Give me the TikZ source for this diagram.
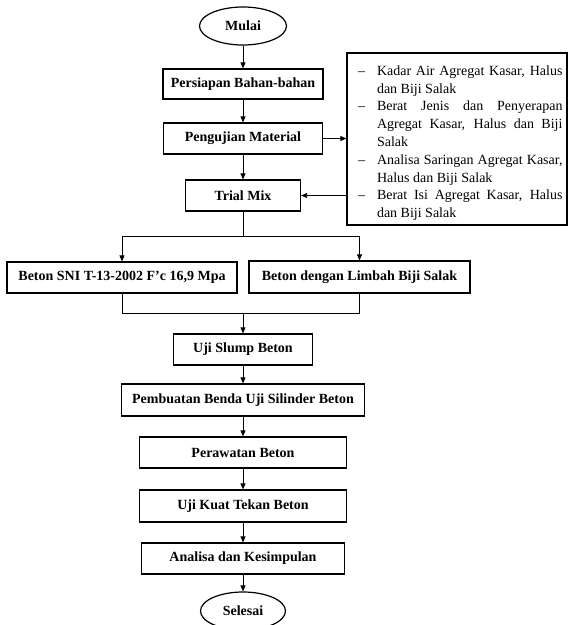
\documentclass[tikz,border=0pt]{standalone}
\usepackage{fontspec}
\setmainfont{Liberation Serif}
\usetikzlibrary{shapes.geometric,arrows.meta}

\tikzset{
  proses/.style={draw, line width=1.2pt, inner sep=0pt,
    font=\fontsize{14}{17.8}\selectfont\bfseries},
  terminal/.style={draw, ellipse, line width=1.2pt, inner sep=0pt,
    font=\fontsize{14}{17.8}\selectfont\bfseries},
  panah/.style={-{Triangle[length=6pt,width=5pt]}, line width=0.8pt},
  garis/.style={line width=0.8pt}
}

\begin{document}
\begin{tikzpicture}[x=1pt,y=-1pt]
    \useasboundingbox (0,0) rectangle (568,625);
    \clip (0,0) rectangle (568,625);

    % Alur utama
    \node[terminal, minimum width=87pt, minimum height=38pt] (mulai) at (243,26) {Mulai};
    \node[proses, minimum width=160pt, minimum height=30pt] (persiapan) at (243,84) {Persiapan Bahan-bahan};
    \node[proses, minimum width=159pt, minimum height=31pt] (pengujian) at (243,138.5) {Pengujian Material};
    \node[proses, minimum width=115pt, minimum height=31pt] (trial) at (243,195.5) {Trial Mix};

    % Daftar pengujian material
    \node[draw, line width=1.2pt, minimum height=172pt, text width=211pt,
          inner xsep=4.5pt, inner ysep=0pt, align=justify,
          font=\fontsize{14}{17.8}\selectfont] (daftar) at (457,139) {%
      \begin{list}{\textendash}{\leftmargin=25.5pt\labelwidth=8pt\labelsep=12pt
          \itemsep=0pt\parsep=0pt\topsep=0pt\partopsep=0pt}
        \item Kadar Air Agregat Kasar, Halus\linebreak dan Biji Salak
        \item Berat Jenis dan Penyerapan\linebreak Agregat Kasar, Halus dan Biji\linebreak Salak
        \item Analisa Saringan Agregat Kasar,\linebreak Halus dan Biji Salak
        \item Berat Isi Agregat Kasar, Halus\linebreak dan Biji Salak
      \end{list}};

    % Dua jenis beton
    \node[proses, minimum width=230pt, minimum height=31pt] (sni) at (122,277.5) {Beton SNI T-13-2002 F'c 16,9 Mpa};
    \node[proses, minimum width=221pt, minimum height=32pt] (limbah) at (359.5,277) {Beton dengan Limbah Biji Salak};

    \node[proses, minimum width=139pt, minimum height=31pt] (slump) at (243,349.5) {Uji Slump Beton};
    \node[proses, minimum width=243pt, minimum height=32pt] (pembuatan) at (243,400) {Pembuatan Benda Uji Silinder Beton};
    \node[proses, minimum width=207pt, minimum height=31pt] (perawatan) at (243,452.5) {Perawatan Beton};
    \node[proses, minimum width=207pt, minimum height=32pt] (kuat) at (243,506) {Uji Kuat Tekan Beton};
    \node[proses, minimum width=203pt, minimum height=31pt] (analisa) at (243,558.5) {Analisa dan Kesimpulan};
    \node[terminal, minimum width=85pt, minimum height=38pt] (selesai) at (243,611) {Selesai};

    % Panah
    \draw[panah] (mulai) -- (persiapan);
    \draw[panah] (persiapan) -- (pengujian);
    \draw[panah] (pengujian) -- (trial);
    \draw[panah] (pengujian.east) -- (pengujian.east -| daftar.west);
    \draw[panah] (daftar.west |- trial.east) -- (trial.east);

    % Cabang dan gabung
    \coordinate (cabang) at (243,236);
    \coordinate (gabung) at (243,313);
    \draw[garis] (trial.south) -- (cabang);
    \draw[panah] (cabang) -| (sni.north);
    \draw[panah] (cabang) -| (limbah.north);
    \draw[garis] (sni.south) |- (gabung);
    \draw[garis] (limbah.south) |- (gabung);
    \draw[panah] (gabung) -- (slump.north);

    \draw[panah] (slump) -- (pembuatan);
    \draw[panah] (pembuatan) -- (perawatan);
    \draw[panah] (perawatan) -- (kuat);
    \draw[panah] (kuat) -- (analisa);
    \draw[panah] (analisa) -- (selesai);
\end{tikzpicture}
\end{document}
